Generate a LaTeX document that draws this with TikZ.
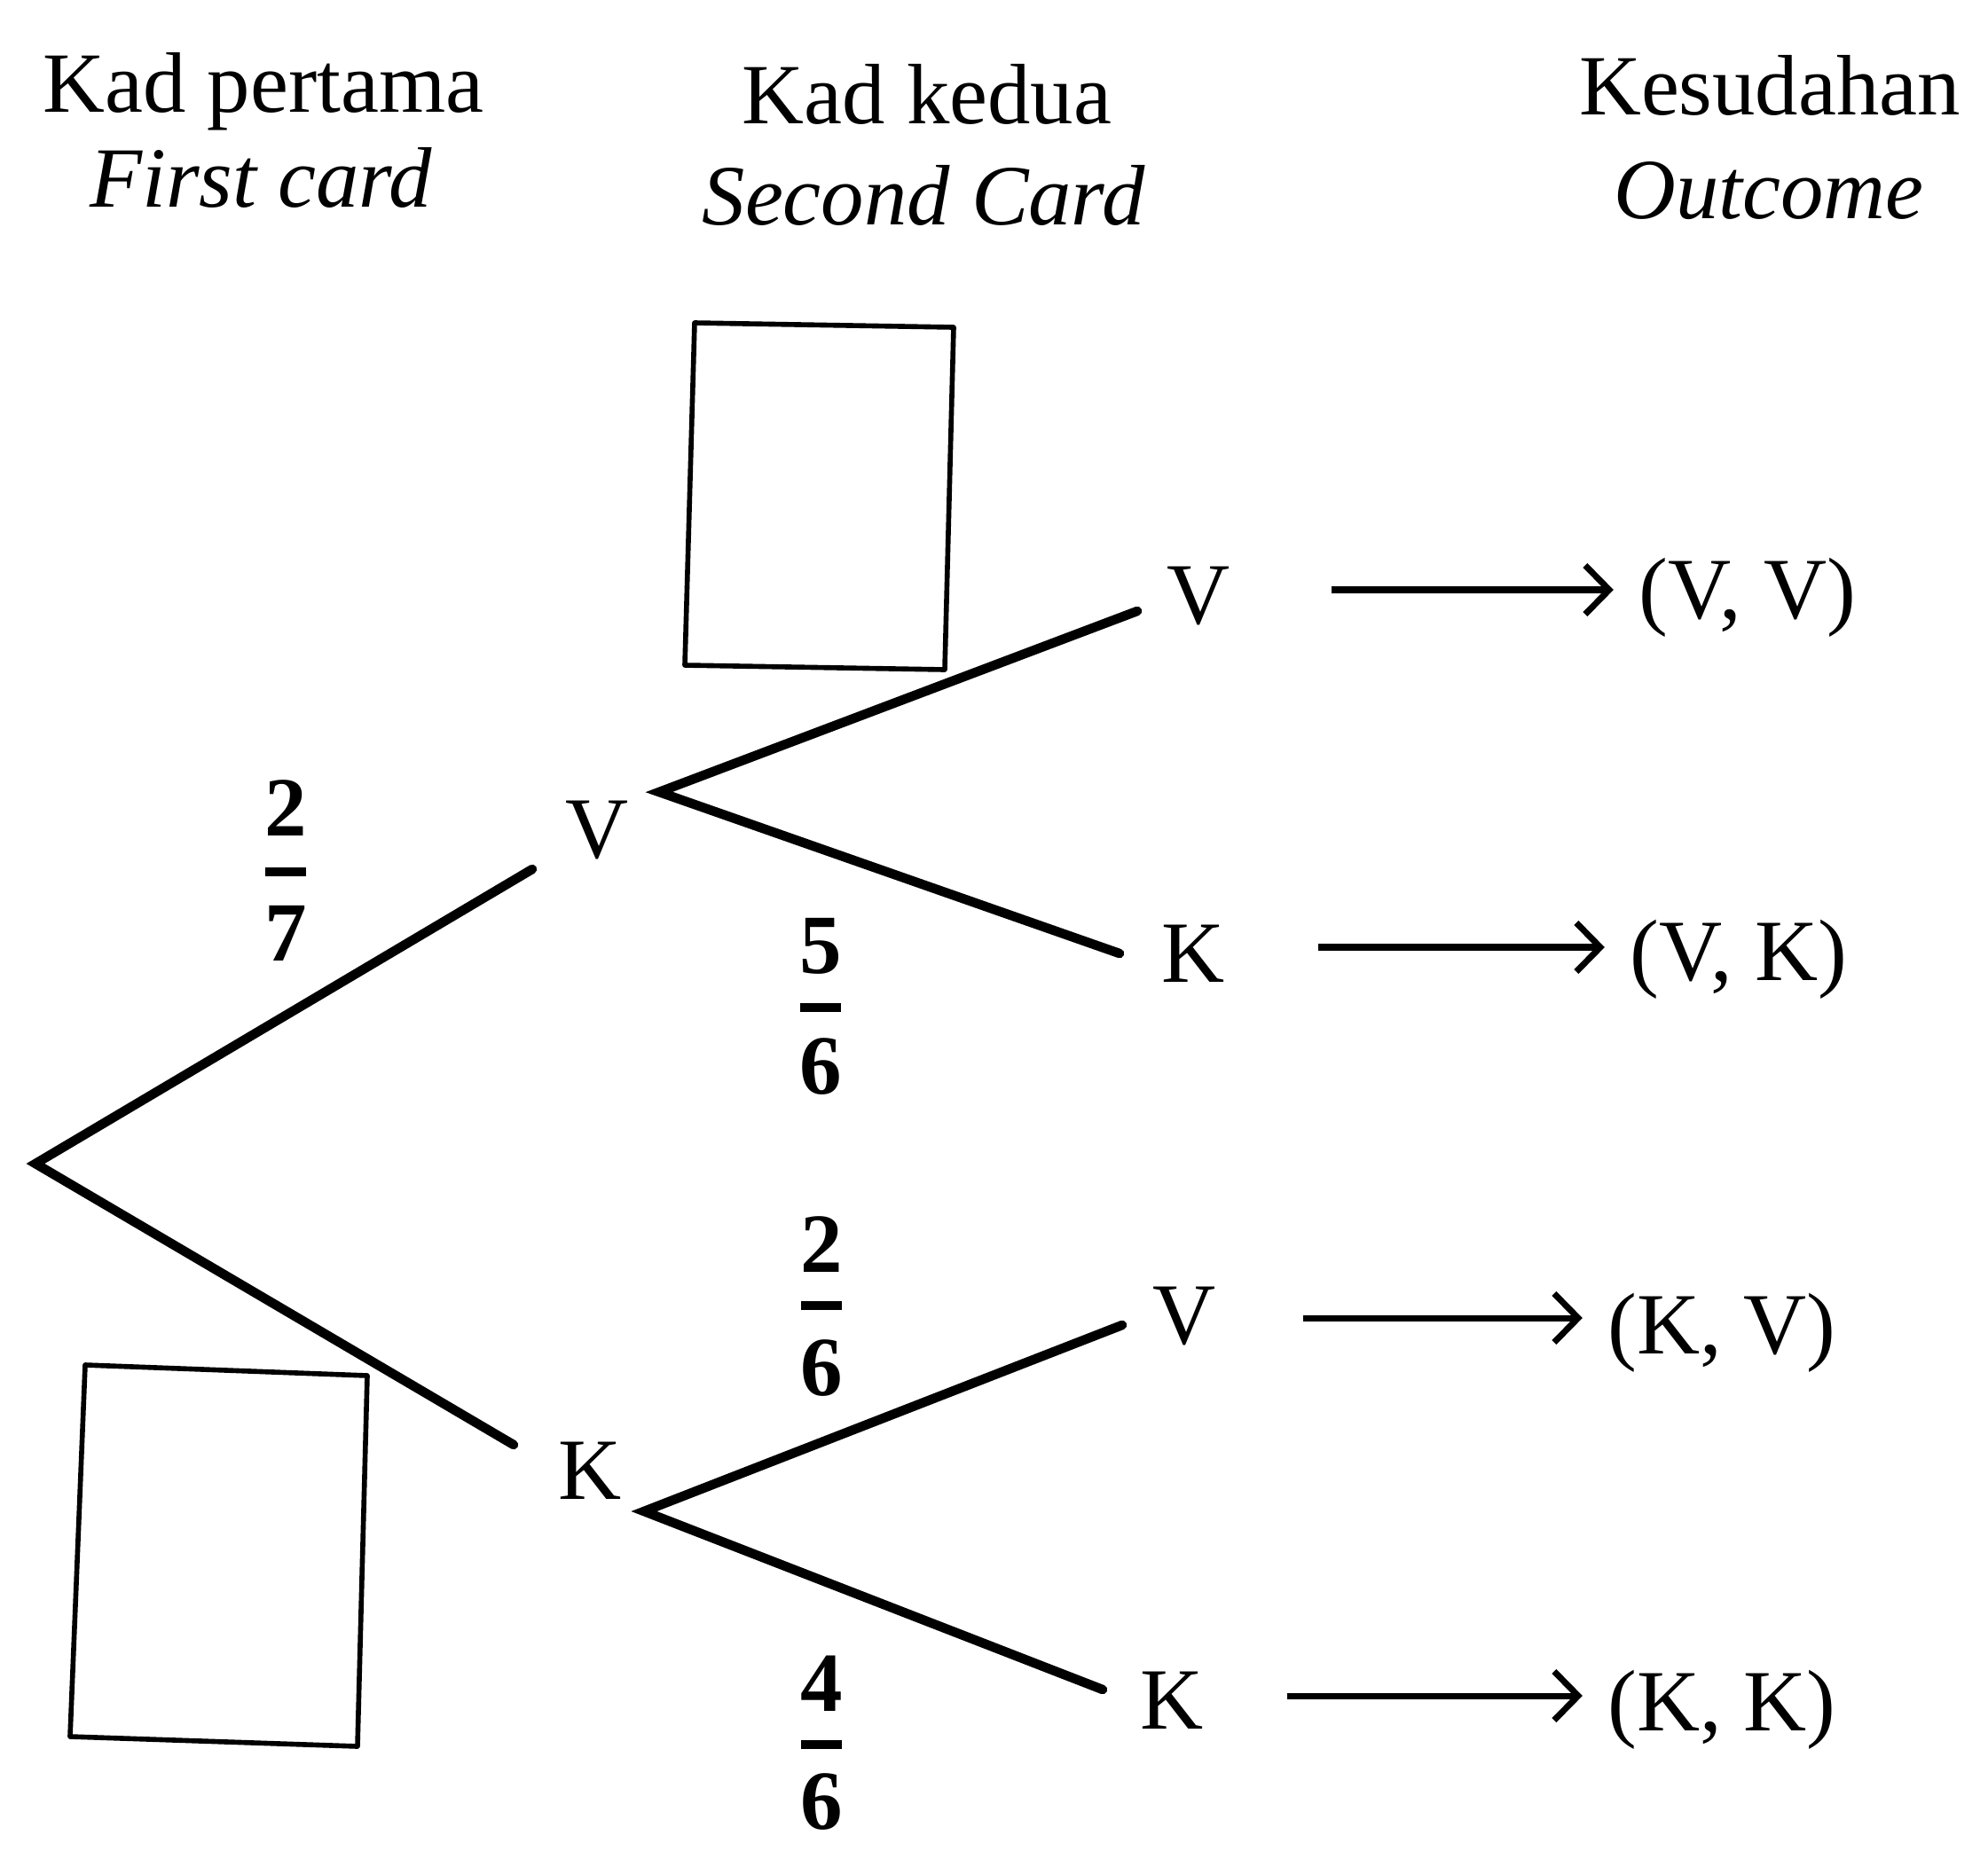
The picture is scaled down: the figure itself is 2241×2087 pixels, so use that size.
\documentclass[tikz,border=0pt]{standalone}
\usepackage{fontspec}
\setmainfont{Liberation Serif}
\usetikzlibrary{arrows.meta}
\begin{document}
\begin{tikzpicture}[x=0.01cm,y=-0.01cm,
  branch/.style={line width=3pt, line cap=round},
  card/.style={line width=1.6pt, line join=round},
  arr/.style={line width=2pt, shorten >=8, -{Straight Barb[length=0.27cm,width=0.55cm,line width=2pt]}},
  lbl/.style={font=\fontsize{28}{32}\selectfont, inner sep=0pt},
  outc/.style={font=\fontsize{28}{32}\selectfont, inner sep=0pt, anchor=base west},
  head/.style={font=\fontsize{27.5}{32}\selectfont, inner sep=0pt, anchor=base},
  ihead/.style={font=\fontsize{27.5}{32}\selectfont\itshape, inner sep=0pt, anchor=base},
  digit/.style={font=\fontsize{27}{32}\selectfont\bfseries, inner sep=0pt},
  fbar/.style={line width=2.6pt}]
\useasboundingbox (0,0) rectangle (2241,2087);

% headers
\node[head]  (h1)  at (297,126)  {Kad pertama};
\node[ihead] (h1e) at (294,233)  {First card};
\node[head]  (h2)  at (1045,139) {Kad kedua};
\node[ihead] (h2e) at (1041,253) {Second Card};
\node[head]  (h3)  at (1995,129) {Kesudahan};
\node[ihead] (h3e) at (1994,246) {Outcome};

% cards
\draw[card] (783,364) -- (1075,369) -- (1065,755) -- (772,750) -- cycle;
\draw[card] (96,1539) -- (414,1551) -- (403,1969) -- (79,1958) -- cycle;

% first level
\coordinate (root) at (40,1312);
\coordinate (r1) at (600,980);
\coordinate (r2) at (579,1629);
\node[lbl] (v1) at (673,936) {V};
\node[lbl] (k1) at (665,1658) {K};
\draw[branch] (r1) -- (root) -- (r2);

% second level from V
\coordinate (v1o) at (743,893);
\coordinate (v1a) at (1282,689);
\coordinate (v1b) at (1262,1075);
\draw[branch] (v1a) -- (v1o) -- (v1b);
\node[lbl] (vv) at (1351,672) {V};
\node[lbl] (vk) at (1345,1075) {K};

% second level from K
\coordinate (k1o) at (726,1704);
\coordinate (k1a) at (1265,1494);
\coordinate (k1b) at (1243,1905);
\draw[branch] (k1a) -- (k1o) -- (k1b);
\node[lbl] (kv) at (1335,1484) {V};
\node[lbl] (kk) at (1321,1917) {K};

% outcomes
\node[outc] (o1) at (1847,697)  {(V, V)};
\node[outc] (o2) at (1837,1105) {(V, K)};
\node[outc] (o3) at (1812,1526) {(K, V)};
\node[outc] (o4) at (1812,1951) {(K, K)};

\coordinate (a1) at (1501,665);
\coordinate (a2) at (1486,1068);
\coordinate (a3) at (1469,1486);
\coordinate (a4) at (1451,1912);
\draw[arr] (a1) -- (a1 -| o1.west);
\draw[arr] (a2) -- (a2 -| o2.west);
\draw[arr] (a3) -- (a3 -| o3.west);
\draw[arr] (a4) -- (a4 -| o4.west);

% fractions
\node[digit] (f1n) at (322,911)  {2};
\node[digit] (f1d) at (322,1052) {7};
\draw[fbar] (299,983) -- (345,983);
\node[digit] (f2n) at (925,1067) {5};
\node[digit] (f2d) at (925,1203) {6};
\draw[fbar] (902,1136) -- (948,1136);
\node[digit] (f3n) at (926,1403) {2};
\node[digit] (f3d) at (926,1543) {6};
\draw[fbar] (903,1472) -- (949,1472);
\node[digit] (f4n) at (926,1898) {4};
\node[digit] (f4d) at (926,2032) {6};
\draw[fbar] (903,1967) -- (949,1967);
\end{tikzpicture}
\end{document}
